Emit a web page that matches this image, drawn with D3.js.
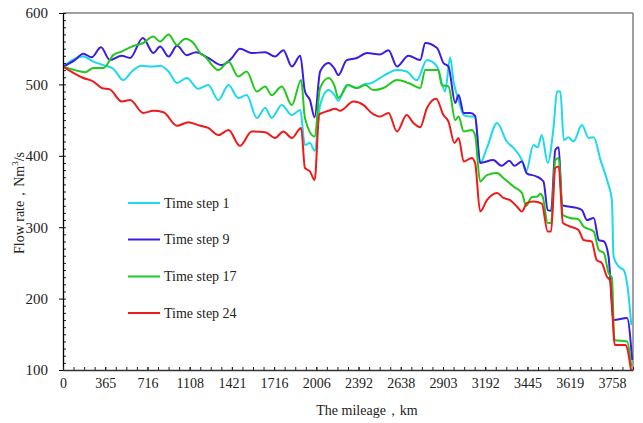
<!DOCTYPE html>
<html>
<head>
<meta charset="utf-8">
<script src="https://cdn.jsdelivr.net/npm/d3@7/dist/d3.min.js"></script>
<style>
  html, body { margin: 0; padding: 0; background: #fff; }
  svg { display: block; }
  text { font-family: "Liberation Serif", "Times New Roman", serif; }
</style>
</head>
<body>
<svg id="chart" width="643" height="423"></svg>
<script>
// ---- Data ----
// x positions are station indices (tick every 10 stations), labels are mileage (km)
const xTickIndex = [0, 10, 20, 30, 40, 50, 60, 70, 80, 90, 100, 110, 120, 130];
const xTickLabels = ["0", "365", "716", "1108", "1421", "1716", "2006", "2392", "2638", "2903", "3192", "3445", "3619", "3758"];
const yTicks = [100, 200, 300, 400, 500, 600];
const seriesNames = ["Time step 1", "Time step 9", "Time step 17", "Time step 24"];
const seriesColors = ["#1ed8ec", "#3a1ee0", "#22c81e", "#f01a1a"];

const step1 = [[0,525],[4.8,539],[7.2,532],[9.6,527],[11.9,522],[14.3,506],[16.3,518],[18.6,526],[21,525],[23,526],[25,518],[27,502],[29.3,509],[32,494],[34.4,499],[36.8,478],[39.2,499],[41.5,481],[43.5,485],[45.9,453],[47.9,467],[49.4,453],[51.8,471],[54.2,457],[56.2,464],[57.3,415],[58.5,418],[59.6,407],[60.9,471],[62.9,492],[64.3,485],[65.2,477],[67.2,499],[69.6,495],[71.2,500],[73.1,502],[75.1,509],[77.1,516],[79.1,520],[81.4,518],[83.8,506],[86.2,534],[88.6,525],[90.5,490],[91.7,538],[92.5,504],[93.7,478],[94.9,457],[96.5,455],[97.6,455],[98.8,390],[100.4,411],[102.8,446],[105.1,420],[106.7,411],[108.7,394],[109.7,378],[111.4,415],[112.4,412],[113.4,429],[114.8,390],[116.2,441],[117,490],[117.8,490],[118.6,422],[119.7,426],[120.9,420],[122.9,443],[124.5,425],[125.7,426],[127.3,394],[129.2,359],[130,338],[130.4,259],[131.6,245],[132.8,240],[133.7,217],[134.6,163]];
const step9 = [[0,525],[2.8,534],[4.8,543],[6.8,538],[9,552],[11.1,534],[13.9,540],[15.9,537],[18.9,565],[21.4,544],[23,553],[25,539],[27,554],[29.3,541],[31.5,545],[34.4,537],[37.6,527],[40,537],[41.9,550],[44.7,544],[47.9,545],[50.2,539],[52.2,548],[54.2,525],[56.2,540],[57.3,490],[58.5,478],[59.6,454],[60.9,518],[62.9,530],[64.3,522],[65.2,513],[67.2,534],[69.6,537],[72,544],[75.1,542],[77.1,548],[79.1,525],[81.8,540],[84.6,534],[85.8,558],[88.6,551],[90.1,530],[91.3,525],[92.9,474],[93.7,485],[94.9,460],[96.5,460],[97.6,456],[98.8,390],[101.9,394],[103.9,386],[105.7,393],[106.9,386],[108.7,392],[109.9,375],[112.2,371],[113.8,364],[114.8,324],[115.6,323],[116.6,408],[117.4,412],[118.2,331],[119.7,329],[121.7,327],[122.9,324],[124.1,310],[125.7,313],[126.9,282],[128.1,280],[129.2,259],[130.4,170],[133.6,173],[134.8,114]];
const step17 = [[0,525],[2.8,520],[5.2,517],[7.2,523],[9.6,523],[11.9,541],[13.9,546],[16.3,553],[19,558],[21.4,567],[23,560],[25,570],[27,555],[28.9,564],[30.9,558],[32.5,544],[33.6,539],[36.8,520],[39.2,532],[41.5,511],[43.5,518],[45.9,490],[47.9,497],[49.4,485],[51.8,497],[54.2,471],[56.4,506],[57.3,453],[59.6,427],[60.9,495],[62.9,509],[64.3,498],[65.2,481],[67.6,499],[69.6,495],[71.6,499],[73.5,492],[75.9,495],[79.1,506],[81.8,502],[84.6,495],[85.8,520],[88.9,520],[89.7,499],[91.3,497],[92.9,450],[93.7,455],[94.9,434],[96.8,436],[97.6,429],[98.8,364],[100.4,373],[102.8,376],[104.3,369],[106.7,357],[108.7,348],[109.7,330],[111,342],[112.4,343],[113,347],[113.6,343],[114.8,306],[115.6,306],[116.6,394],[117.4,397],[118.4,317],[120.1,313],[122.1,311],[123.3,301],[125.7,294],[126.9,268],[128.1,264],[129.2,236],[130,229],[130.6,142],[133.6,140],[134.6,105]];
const step24 = [[0,525],[4.8,509],[7.2,504],[9.2,495],[11.1,493],[13.9,476],[15.9,478],[19,460],[21.4,463],[23.8,461],[27,442],[29.7,447],[32,443],[34.4,439],[36.8,429],[39.2,436],[41.9,414],[44.7,434],[47.9,433],[50.2,425],[52.2,434],[54.2,425],[56.4,439],[57.3,383],[58.5,378],[59.6,366],[60.7,458],[62.9,463],[64.5,466],[65.6,463],[68.8,476],[71.2,471],[73.1,460],[75.1,455],[77.1,460],[79.1,434],[81.4,457],[83,446],[84.6,440],[86.2,467],[88.4,480],[90.1,457],[91.3,448],[92.7,418],[93.7,425],[94.9,392],[96.8,397],[97.6,390],[98.8,322],[100.4,338],[102.8,348],[104.3,341],[105.9,338],[107.5,329],[108.7,322],[109.9,334],[111.4,336],[113.4,333],[114.8,294],[115.6,294],[116.6,383],[117.4,385],[118.4,306],[120.1,301],[122.1,296],[123.3,282],[125.2,280],[126.4,254],[127.6,250],[128.8,231],[129.6,225],[130.7,135],[133.2,135],[134.6,97]];
const allSeries = [step1, step9, step17, step24];

// ---- Layout ----
const svg = d3.select("#chart");
const pL = 63, pR = 633, pT = 13, pB = 370;
const x = d3.scaleLinear().domain([0, 135]).range([pL, pR]);
const y = d3.scaleLinear().domain([100, 600]).range([pB, pT]);

svg.append("rect").attr("width", 643).attr("height", 423).attr("fill", "#fff");

svg.append("defs").append("clipPath").attr("id", "clip")
  .append("rect").attr("x", pL).attr("y", pT).attr("width", pR - pL).attr("height", pB - pT);

// frame top/right
svg.append("line").attr("x1", pL).attr("x2", pR).attr("y1", pT).attr("y2", pT)
  .attr("stroke", "#808080").attr("stroke-width", 1.5);
svg.append("line").attr("x1", pR).attr("x2", pR).attr("y1", pT).attr("y2", pB)
  .attr("stroke", "#808080").attr("stroke-width", 1.5);

// lines
const line = d3.line().x(d => x(d[0])).y(d => y(d[1])).curve(d3.curveMonotoneX);
const g = svg.append("g").attr("clip-path", "url(#clip)");
allSeries.forEach((s, k) => {
  g.append("path").datum(s).attr("d", line)
    .attr("fill", "none").attr("stroke", seriesColors[k]).attr("stroke-width", 2)
    .attr("stroke-linejoin", "round");
});

// Y axis minor (inside)
svg.append("g").attr("transform", `translate(${pL},0)`)
  .call(d3.axisLeft(y).tickValues(d3.range(100, 601, 10)).tickSize(-3).tickFormat(""))
  .call(a => a.select(".domain").remove())
  .call(a => a.selectAll("line").attr("stroke", "#222"));
// Y axis major
svg.append("g").attr("transform", `translate(${pL},0)`)
  .call(d3.axisLeft(y).tickValues(yTicks).tickSize(4).tickPadding(11).tickSizeOuter(0))
  .call(a => a.select(".domain").attr("stroke", "#000").attr("stroke-width", 1.3))
  .call(a => a.selectAll("text").attr("font-size", 15).attr("fill", "#222")
     .style("font-family", '"Liberation Serif", "Times New Roman", serif'));

// X axis minor (inside)
svg.append("g").attr("transform", `translate(0,${pB})`)
  .call(d3.axisBottom(x).tickValues(d3.range(0, 135.1, 2.5)).tickSize(-3).tickFormat(""))
  .call(a => a.select(".domain").remove())
  .call(a => a.selectAll("line").attr("stroke", "#222"));
// X axis major
svg.append("g").attr("transform", `translate(0,${pB})`)
  .call(d3.axisBottom(x).tickValues(xTickIndex).tickSize(-3).tickPadding(8).tickSizeOuter(0)
        .tickFormat((d, i) => xTickLabels[i]))
  .call(a => a.select(".domain").attr("stroke", "#333").attr("stroke-width", 1.3))
  .call(a => a.selectAll("line").attr("stroke", "#222"))
  .call(a => a.selectAll("text").attr("font-size", 14).attr("fill", "#222")
     .style("font-family", '"Liberation Serif", "Times New Roman", serif'));

// Axis titles
const yt = svg.append("text").attr("transform", "translate(24,203) rotate(-90)")
  .attr("text-anchor", "middle").attr("font-size", 14).attr("fill", "#222");
yt.append("tspan").text("Flow rate，Nm");
yt.append("tspan").attr("font-size", 9).attr("dy", -6).text("3");
yt.append("tspan").attr("dy", 6).text("/s");

svg.append("text").attr("x", 367).attr("y", 415).attr("text-anchor", "middle")
  .attr("font-size", 14).attr("fill", "#222").text("The mileage，km");

// Legend
const legendY = [203, 239.5, 276.5, 313];
seriesNames.forEach((n, k) => {
  svg.append("line").attr("x1", 128).attr("x2", 160).attr("y1", legendY[k]).attr("y2", legendY[k])
    .attr("stroke", seriesColors[k]).attr("stroke-width", 2);
  svg.append("text").attr("x", 164).attr("y", legendY[k]).attr("dy", "0.35em")
    .attr("font-size", 14).attr("fill", "#222").text(n);
});
</script>
</body>
</html>
